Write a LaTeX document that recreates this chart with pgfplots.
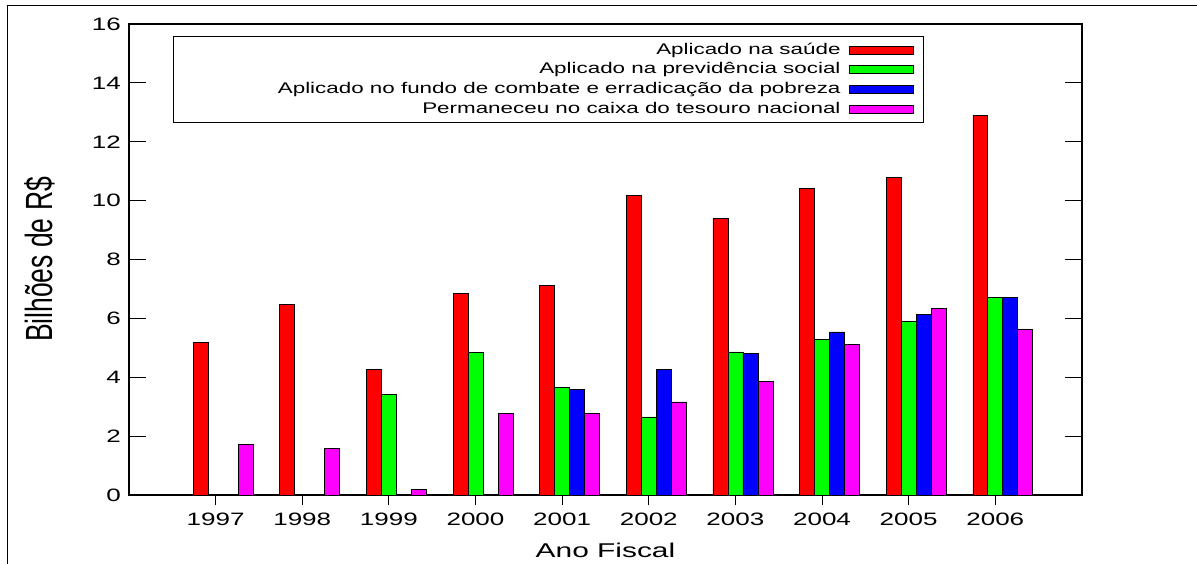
\documentclass[border=0pt]{standalone}
\usepackage{pgfplots}
\pgfplotsset{compat=1.18}
\usepackage{pgfplotstable}
\usepackage{fontspec}
\setmainfont{Liberation Sans}
\newfontfamily\fW[FakeStretch=1.45]{Liberation Sans}
\newfontfamily\fX[FakeStretch=1.5]{Liberation Sans}
\newfontfamily\fY[FakeStretch=0.7]{Liberation Sans}
\definecolor{gMag}{rgb}{1,0,1}
\definecolor{gGreen}{rgb}{0,1,0}
\definecolor{gBlue}{rgb}{0,0,1}
\definecolor{gRed}{rgb}{1,0,0}

\pgfplotstableread{
ano  saude prev fundo caixa
1997 5.17  0    0    1.72
1998 6.47  0    0    1.58
1999 4.26  3.42 0    0.20
2000 6.86  4.85 0    2.76
2001 7.12  3.64 3.59 2.76
2002 10.18 2.65 4.26 3.16
2003 9.39  4.86 4.82 3.87
2004 10.42 5.28 5.54 5.11
2005 10.80 5.90 6.14 6.35
2006 12.90 6.72 6.72 5.63
}\dados

\begin{document}
\begin{tikzpicture}
\useasboundingbox (0,0) rectangle (1197bp,564bp);
\draw[line width=1bp] (7.5bp,0) -- (7.5bp,558bp) -- (1197bp,558bp);
\begin{axis}[
  at={(129bp,69bp)}, anchor=south west,
  scale only axis, width=953bp, height=471bp,
  xmin=1996, xmax=2007, ymin=0, ymax=16,
  ytick={0,2,...,16},
  xtick={1997,...,2006},
  xticklabels={1997,1998,1999,2000,2001,2002,2003,2004,2005,2006},
  xtick pos=bottom, ytick pos=both,
  tick align=inside,
  major tick length=17bp,
  xtick style={/pgfplots/major tick length=10bp},
  tick style={line width=0.9bp, black},
  axis line style={line width=1.1bp},
  /pgf/number format/assume math mode=true,
  tick label style={font=\fW\fontsize{18}{18}\selectfont, inner sep=0pt},
  yticklabel shift=8bp, xticklabel shift=1bp,
  xlabel={Ano Fiscal},
  xlabel style={font=\fX\fontsize{20}{20}\selectfont, at={(axis description cs:0.5,0)}, anchor=center, yshift=-55bp},
  ylabel={Bilhões de R\$},
  ylabel style={font=\fY\fontsize{38}{38}\selectfont, at={(axis description cs:0,0.5)}, anchor=center, yshift=89bp},
  ybar, bar width=0.173, bar shift=0pt,
  every axis plot/.append style={draw=black, line width=0.8bp},
  legend plot pos=right,
  legend cell align=right,
  legend image code/.code={\fill[#1] (0bp,-4bp) rectangle (64bp,4bp); \path (69bp,0bp);},
  legend style={at={(rel axis cs:0.0462,0.9745)}, anchor=north west,
    draw=black, line width=1bp, inner xsep=5bp, inner ysep=6.5bp,
    font=\fW\fontsize{15.5}{15.5}\selectfont,
    nodes={inner sep=0pt, text height=11bp, text depth=3bp},
    row sep=5.7bp, column sep=8bp},
]
\addplot[fill=gRed] table[x expr=\thisrow{ano}-0.173, y=saude] {\dados};
\addlegendentry{\makebox[662bp][r]{Aplicado na saúde}}
\addplot[fill=gGreen] table[x expr=\thisrow{ano}, y=prev] {\dados};
\addlegendentry{\makebox[662bp][r]{Aplicado na previdência social}}
\addplot[fill=gBlue] table[x expr=\thisrow{ano}+0.173, y=fundo] {\dados};
\addlegendentry{\makebox[662bp][r]{Aplicado no fundo de combate e erradicação da pobreza}}
\addplot[fill=gMag] table[x expr=\thisrow{ano}+0.346, y=caixa] {\dados};
\addlegendentry{\makebox[662bp][r]{Permaneceu no caixa do tesouro nacional}}
\end{axis}
\end{tikzpicture}
\end{document}
